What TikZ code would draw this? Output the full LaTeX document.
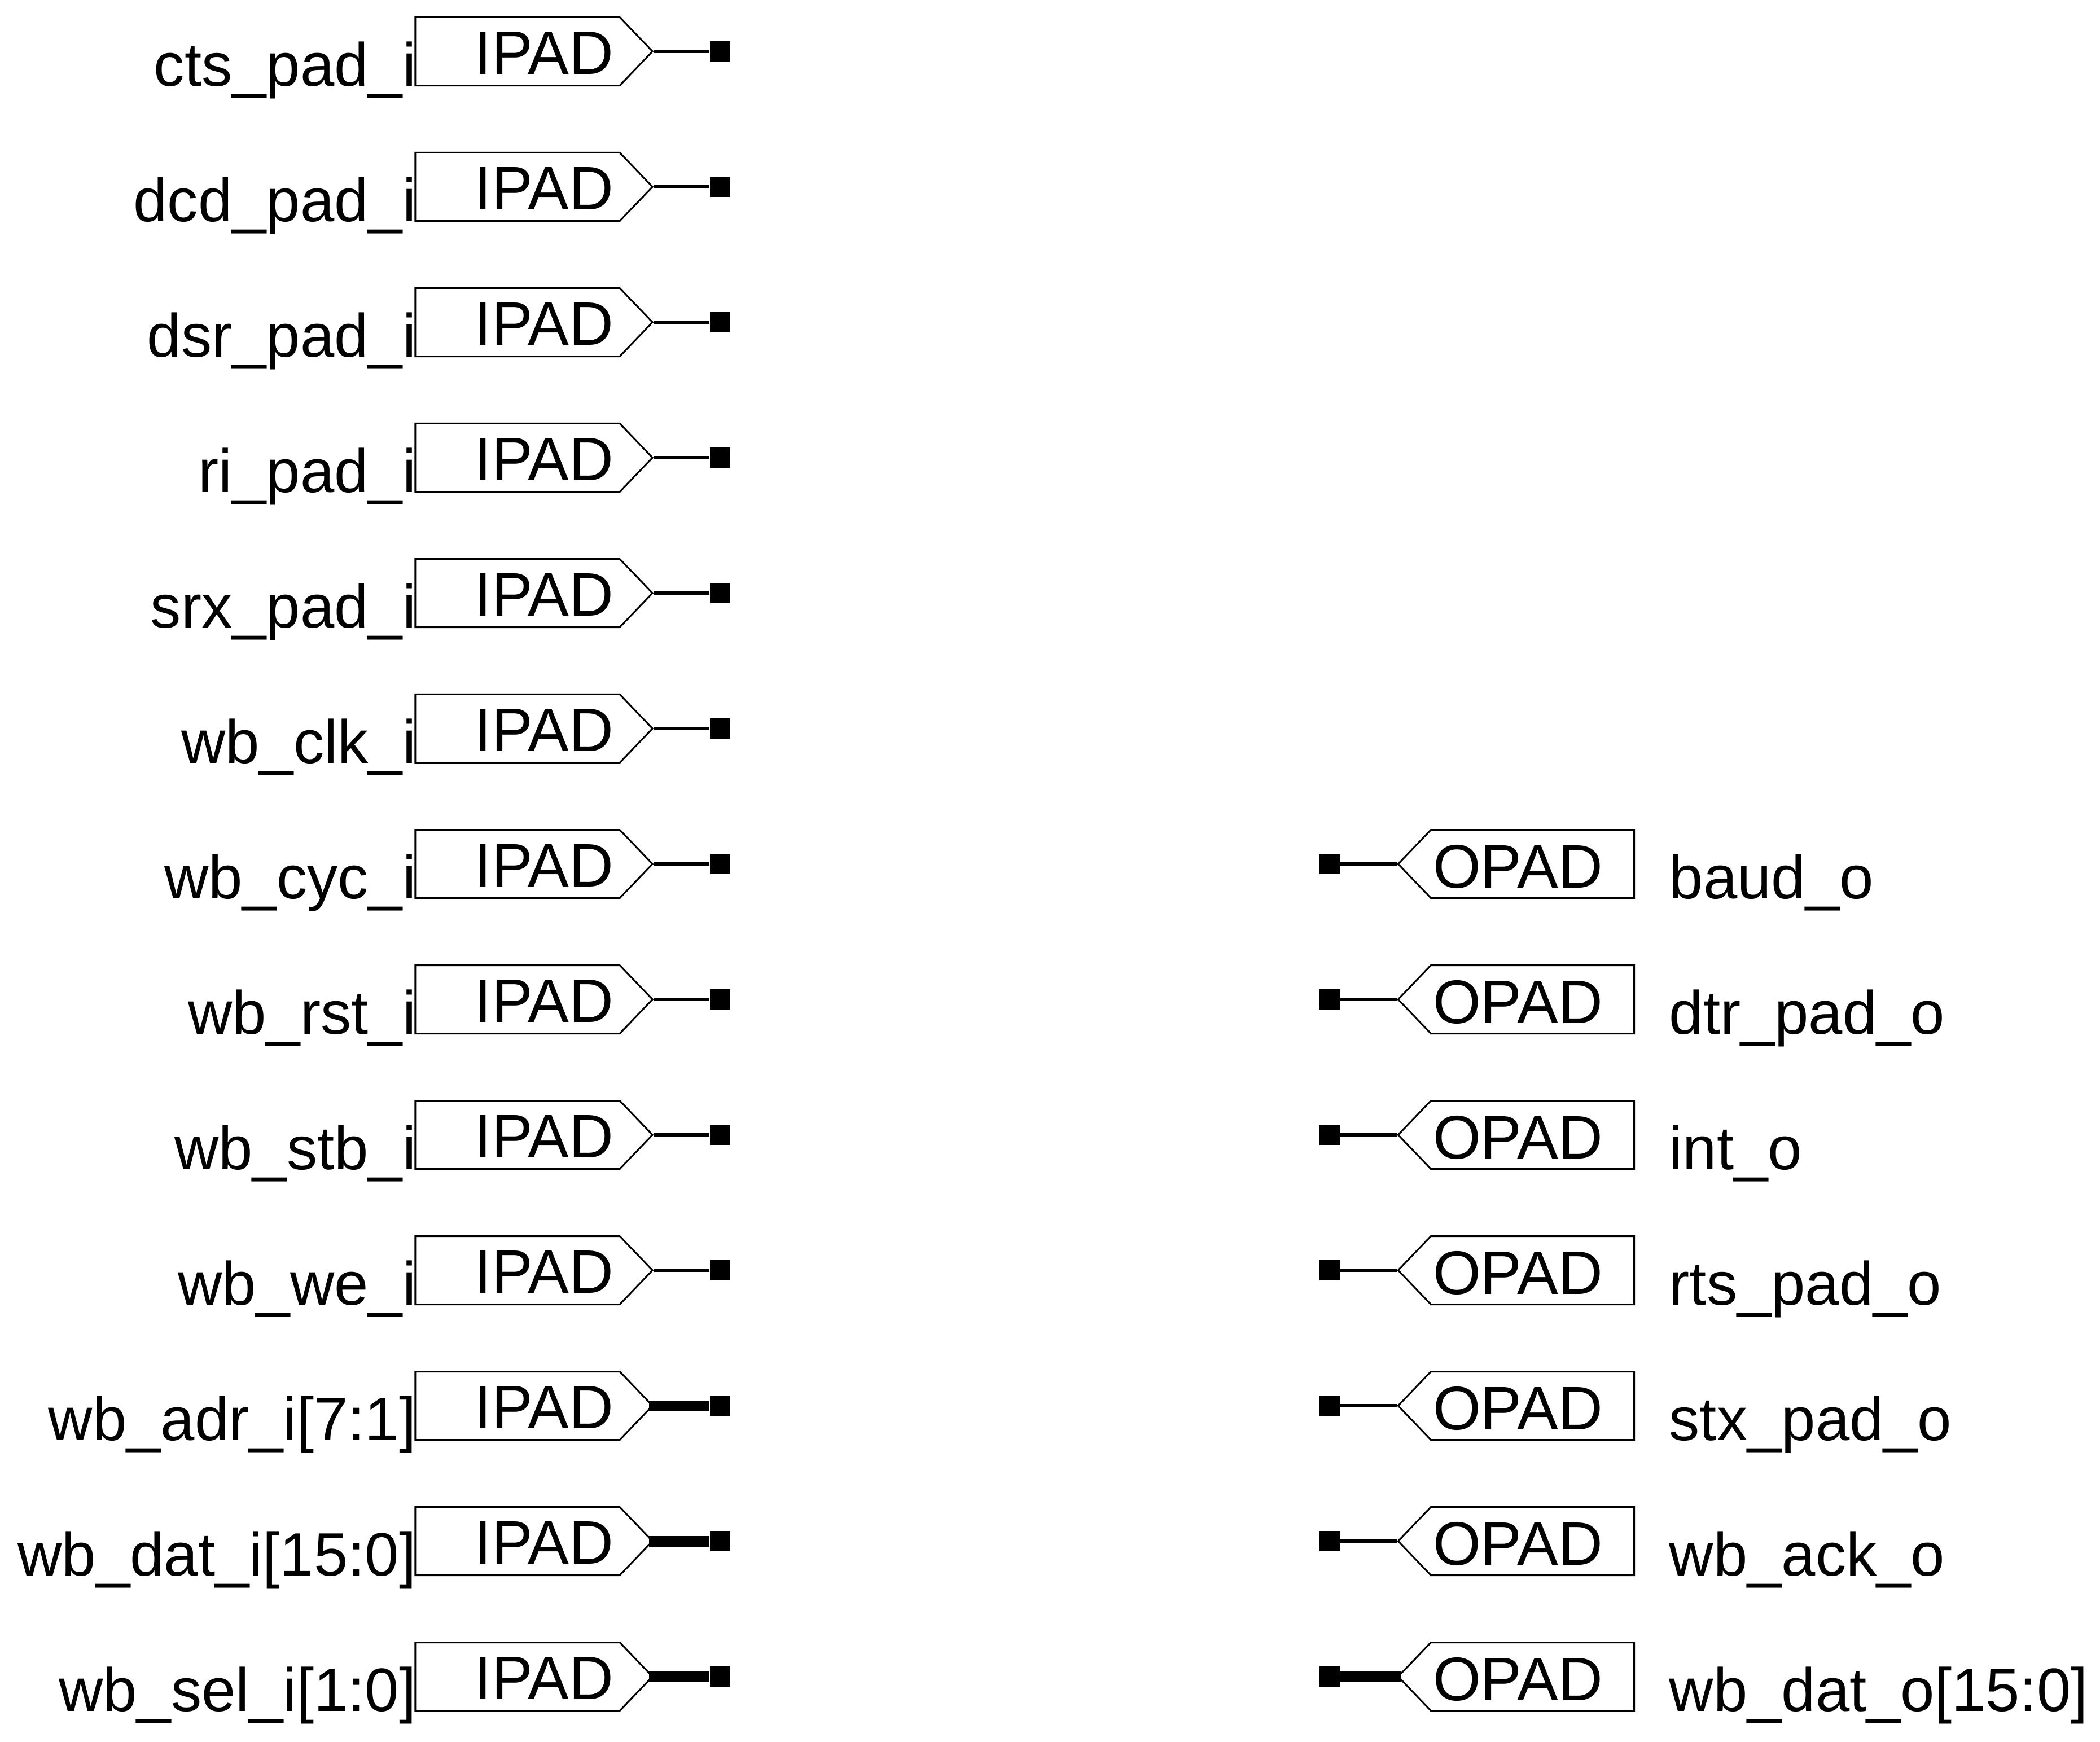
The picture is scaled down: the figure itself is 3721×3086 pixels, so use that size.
\documentclass[tikz,border=0pt]{standalone}
\usepackage{fontspec}
\setmainfont{Liberation Sans}
\usetikzlibrary{shapes.symbols}

\tikzset{
    ipadbox/.style={signal, signal to=east, signal pointer angle=92.4, draw, line width=0.03cm,
        inner sep=0, minimum width=4.20cm, minimum height=1.21cm, text height=0.81cm, text depth=0cm,
        font=\fontsize{31}{31}\selectfont, execute at begin node={\hspace*{0.94cm}}},
    opadbox/.style={signal, signal to=west, signal pointer angle=92.4, draw, line width=0.03cm,
        inner sep=0, minimum width=4.18cm, minimum height=1.21cm, text height=0.85cm, text depth=0cm,
        font=\fontsize{31}{31}\selectfont, execute at end node={\hspace*{0.52cm}}},
    inlabel/.style={anchor=base east, inner sep=0, font=\fontsize{30.85}{31}\selectfont},
    outlabel/.style={anchor=base west, inner sep=0, font=\fontsize{30.85}{31}\selectfont},
    portsq/.style={rectangle, fill=black, inner sep=0, minimum size=0.365cm},
    wire/.style={line width=0.057cm},
    bus/.style={line width=0.19cm, shorten <=-0.08cm}
}

\begin{document}
\begin{tikzpicture}[x=0.01cm, y=-0.01cm]
        \useasboundingbox (0,0) rectangle (3721,3086);

        % Input pads
        \node[inlabel] (ctslabel) at (738,152) {cts\_pad\_i};
        \node[ipadbox] (ctspad) at (917,91) {IPAD};
        \node[portsq] (ctsport) at (1276,91) {};
        \draw[wire] (ctspad.east) -- (ctsport);

        \node[inlabel] (dcdlabel) at (738,392) {dcd\_pad\_i};
        \node[ipadbox] (dcdpad) at (917,331) {IPAD};
        \node[portsq] (dcdport) at (1276,331) {};
        \draw[wire] (dcdpad.east) -- (dcdport);

        \node[inlabel] (dsrlabel) at (738,632) {dsr\_pad\_i};
        \node[ipadbox] (dsrpad) at (917,571) {IPAD};
        \node[portsq] (dsrport) at (1276,571) {};
        \draw[wire] (dsrpad.east) -- (dsrport);

        \node[inlabel] (rilabel) at (738,872) {ri\_pad\_i};
        \node[ipadbox] (ripad) at (917,811) {IPAD};
        \node[portsq] (riport) at (1276,811) {};
        \draw[wire] (ripad.east) -- (riport);

        \node[inlabel] (srxlabel) at (738,1112) {srx\_pad\_i};
        \node[ipadbox] (srxpad) at (917,1051) {IPAD};
        \node[portsq] (srxport) at (1276,1051) {};
        \draw[wire] (srxpad.east) -- (srxport);

        \node[inlabel] (clklabel) at (738,1352) {wb\_clk\_i};
        \node[ipadbox] (clkpad) at (917,1291) {IPAD};
        \node[portsq] (clkport) at (1276,1291) {};
        \draw[wire] (clkpad.east) -- (clkport);

        \node[inlabel] (cyclabel) at (738,1592) {wb\_cyc\_i};
        \node[ipadbox] (cycpad) at (917,1531) {IPAD};
        \node[portsq] (cycport) at (1276,1531) {};
        \draw[wire] (cycpad.east) -- (cycport);

        \node[inlabel] (rstlabel) at (738,1832) {wb\_rst\_i};
        \node[ipadbox] (rstpad) at (917,1771) {IPAD};
        \node[portsq] (rstport) at (1276,1771) {};
        \draw[wire] (rstpad.east) -- (rstport);

        \node[inlabel] (stblabel) at (738,2072) {wb\_stb\_i};
        \node[ipadbox] (stbpad) at (917,2011) {IPAD};
        \node[portsq] (stbport) at (1276,2011) {};
        \draw[wire] (stbpad.east) -- (stbport);

        \node[inlabel] (welabel) at (738,2312) {wb\_we\_i};
        \node[ipadbox] (wepad) at (917,2251) {IPAD};
        \node[portsq] (weport) at (1276,2251) {};
        \draw[wire] (wepad.east) -- (weport);

        % Input buses
        \node[inlabel] (adrlabel) at (738,2552) {wb\_adr\_i[7:1]};
        \node[ipadbox] (adrpad) at (917,2491) {IPAD};
        \node[portsq] (adrport) at (1276,2491) {};
        \draw[bus] (adrpad.east) -- (adrport);

        \node[inlabel] (datilabel) at (738,2792) {wb\_dat\_i[15:0]};
        \node[ipadbox] (datipad) at (917,2731) {IPAD};
        \node[portsq] (datiport) at (1276,2731) {};
        \draw[bus] (datipad.east) -- (datiport);

        \node[inlabel] (sellabel) at (738,3032) {wb\_sel\_i[1:0]};
        \node[ipadbox] (selpad) at (917,2971) {IPAD};
        \node[portsq] (selport) at (1276,2971) {};
        \draw[bus] (selpad.east) -- (selport);

        % Output pads
        \node[outlabel] (baudlabel) at (2957,1592) {baud\_o};
        \node[opadbox] (baudpad) at (2715.5,1531) {OPAD};
        \node[portsq] (baudport) at (2356.5,1531) {};
        \draw[wire] (baudpad.west) -- (baudport);

        \node[outlabel] (dtrlabel) at (2957,1832) {dtr\_pad\_o};
        \node[opadbox] (dtrpad) at (2715.5,1771) {OPAD};
        \node[portsq] (dtrport) at (2356.5,1771) {};
        \draw[wire] (dtrpad.west) -- (dtrport);

        \node[outlabel] (intlabel) at (2957,2072) {int\_o};
        \node[opadbox] (intpad) at (2715.5,2011) {OPAD};
        \node[portsq] (intport) at (2356.5,2011) {};
        \draw[wire] (intpad.west) -- (intport);

        \node[outlabel] (rtslabel) at (2957,2312) {rts\_pad\_o};
        \node[opadbox] (rtspad) at (2715.5,2251) {OPAD};
        \node[portsq] (rtsport) at (2356.5,2251) {};
        \draw[wire] (rtspad.west) -- (rtsport);

        \node[outlabel] (stxlabel) at (2957,2552) {stx\_pad\_o};
        \node[opadbox] (stxpad) at (2715.5,2491) {OPAD};
        \node[portsq] (stxport) at (2356.5,2491) {};
        \draw[wire] (stxpad.west) -- (stxport);

        \node[outlabel] (acklabel) at (2957,2792) {wb\_ack\_o};
        \node[opadbox] (ackpad) at (2715.5,2731) {OPAD};
        \node[portsq] (ackport) at (2356.5,2731) {};
        \draw[wire] (ackpad.west) -- (ackport);

        % Output bus
        \node[outlabel] (datolabel) at (2957,3032) {wb\_dat\_o[15:0]};
        \node[opadbox] (datopad) at (2715.5,2971) {OPAD};
        \node[portsq] (datoport) at (2356.5,2971) {};
        \draw[bus] (datopad.west) -- (datoport);
    \end{tikzpicture}
\end{document}
